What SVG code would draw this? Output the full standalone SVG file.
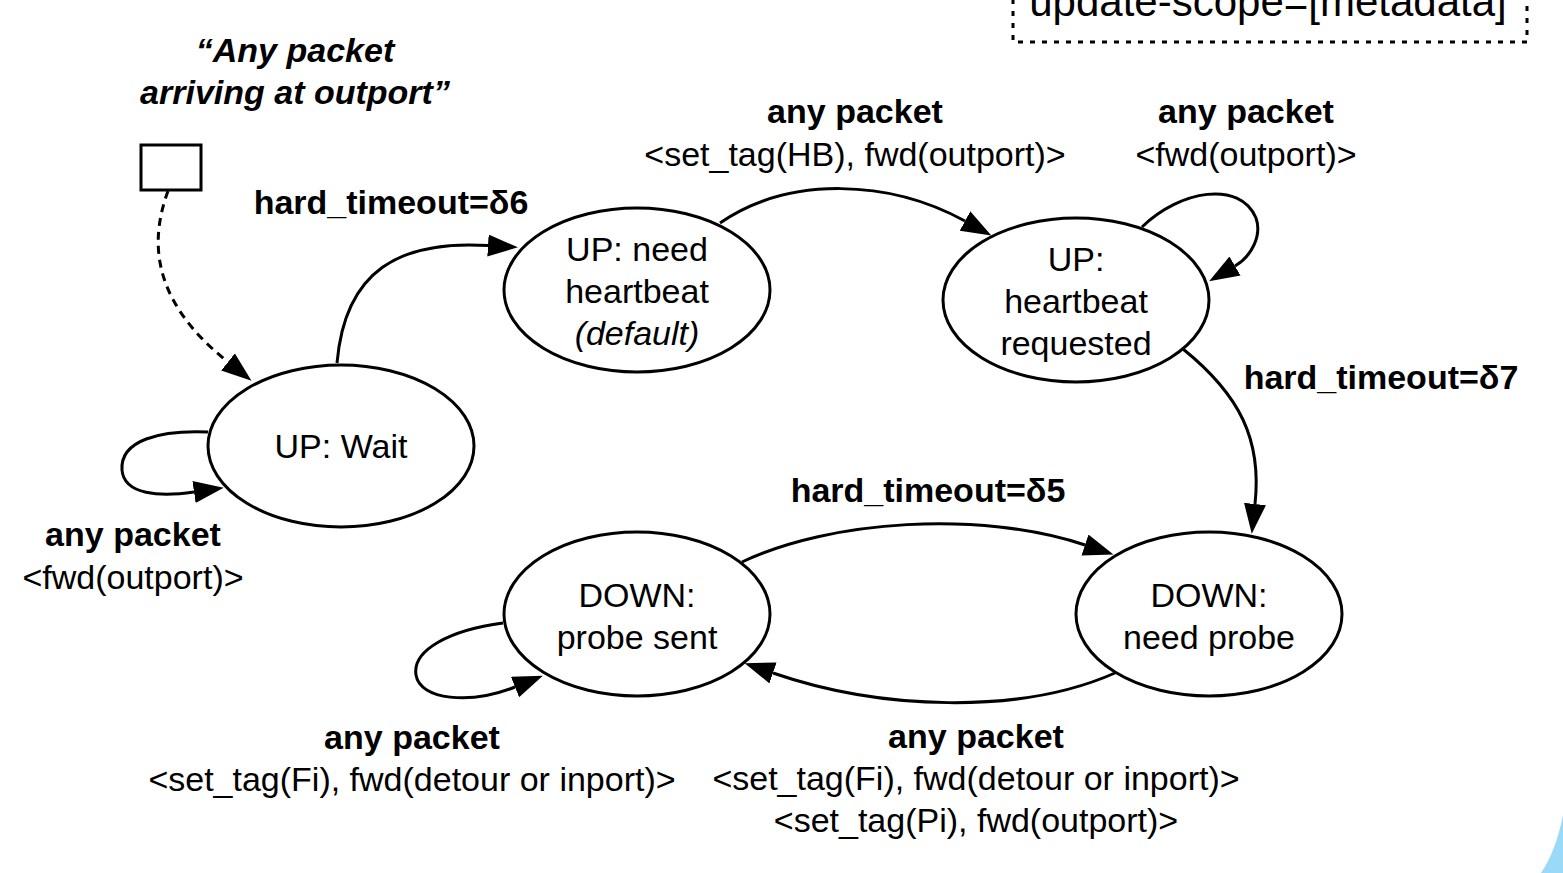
<svg xmlns="http://www.w3.org/2000/svg" width="1563" height="873" viewBox="0 0 1563 873">
<style>
text{font-family:"Liberation Sans",Arial,sans-serif;font-size:34px;fill:#000;text-anchor:middle}
.b{font-weight:bold}
.i{font-style:italic}
.bi{font-weight:bold;font-style:italic}
.st{fill:#fff;stroke:#000;stroke-width:3}
.e{fill:none;stroke:#000;stroke-width:3;marker-end:url(#ah)}
.d{stroke-dasharray:8,6}
</style>
<defs>
<marker id="ah" markerUnits="userSpaceOnUse" markerWidth="32" markerHeight="24" refX="0" refY="11" orient="auto" viewBox="0 0 32 24">
<path d="M0,0 L30,11 L0,22 z" fill="#000"/>
</marker>
</defs>
<rect width="1563" height="873" fill="#fff"/>
<path d="M1563,815 C1558,840 1551,858 1541,873 L1563,873 Z" fill="#9ad9f8"/>
<g id="scope-box">
<rect x="1013" y="-20" width="514" height="62" fill="none" stroke="#000" stroke-width="3" stroke-dasharray="5,7"/>
<text x="1268" y="16" style="font-size:42px">update-scope=[metadata]</text>
</g>
<g id="edges">
<path class="e d" d="M168,191 C150,240 150,300 228,362"/>
<path class="e" d="M337,363 C345,270 400,240 488,245.5"/>
<path class="e" d="M720,223 C790,175 890,180 965,221"/>
<path class="e" d="M1142,227 C1180,190 1240,180 1256,218 C1262,235 1252,256 1235,266"/>
<path class="e" d="M1183,349 C1240,395 1262,440 1255,504"/>
<path class="e" d="M742,562 C830,520 980,510 1085,545"/>
<path class="e" d="M1115,673 C1020,715 880,710 773,673"/>
<path class="e" d="M208,432 C160,430 120,440 122,470 C124,495 160,497 194,492"/>
<path class="e" d="M503,623 C450,630 412,650 416,675 C420,700 470,705 515,687"/>
<text class="b" x="391" y="214">hard_timeout=δ6</text>
<text class="b" x="855" y="123">any packet</text>
<text x="855" y="166">&lt;set_tag(HB), fwd(outport)&gt;</text>
<text class="b" x="1246" y="123">any packet</text>
<text x="1246" y="166">&lt;fwd(outport)&gt;</text>
<text class="b" x="1381" y="389">hard_timeout=δ7</text>
<text class="b" x="928" y="502">hard_timeout=δ5</text>
<text class="b" x="976" y="748">any packet</text>
<text x="976" y="790">&lt;set_tag(Fi), fwd(detour or inport)&gt;</text>
<text x="976" y="832">&lt;set_tag(Pi), fwd(outport)&gt;</text>
<text class="b" x="412" y="749">any packet</text>
<text x="412" y="791">&lt;set_tag(Fi), fwd(detour or inport)&gt;</text>
<text class="b" x="133" y="546">any packet</text>
<text x="133" y="589">&lt;fwd(outport)&gt;</text>
</g>
<g id="start">
<rect class="st" x="141" y="145" width="60" height="45"/>
<text class="bi" x="295" y="62">“Any packet</text>
<text class="bi" x="295" y="104">arriving at outport”</text>
</g>
<g id="up-wait">
<ellipse class="st" cx="341" cy="446" rx="133" ry="81"/>
<text x="341" y="458">UP: Wait</text>
</g>
<g id="up-need-heartbeat">
<ellipse class="st" cx="637" cy="290" rx="133" ry="82"/>
<text x="637" y="261">UP: need</text>
<text x="637" y="303">heartbeat</text>
<text class="i" x="637" y="345">(default)</text>
</g>
<g id="up-heartbeat-requested">
<ellipse class="st" cx="1076" cy="300" rx="133" ry="82"/>
<text x="1076" y="271">UP:</text>
<text x="1076" y="313">heartbeat</text>
<text x="1076" y="355">requested</text>
</g>
<g id="down-probe-sent">
<ellipse class="st" cx="637" cy="614" rx="133" ry="82"/>
<text x="637" y="607">DOWN:</text>
<text x="637" y="649">probe sent</text>
</g>
<g id="down-need-probe">
<ellipse class="st" cx="1209" cy="614" rx="133" ry="82"/>
<text x="1209" y="607">DOWN:</text>
<text x="1209" y="649">need probe</text>
</g>
</svg>
